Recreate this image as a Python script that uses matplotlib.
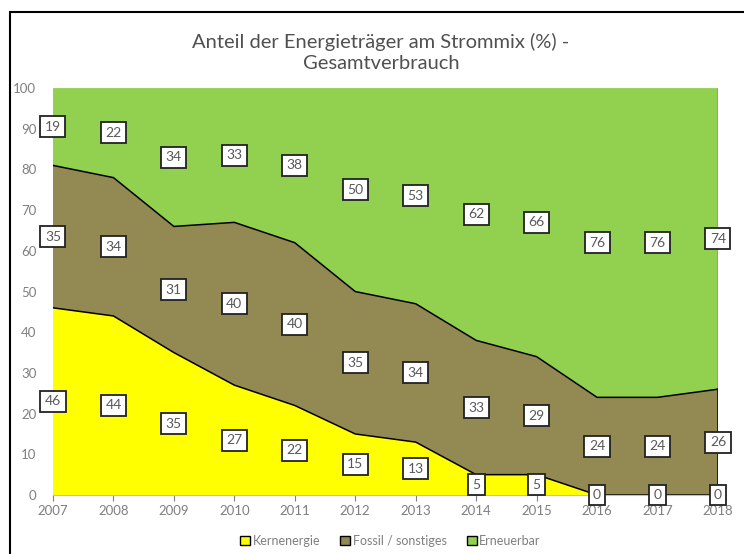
import numpy as np
from matplotlib import pyplot as plt
from matplotlib.patches import Rectangle

plt.rcParams["font.family"] = ["Lato", "DejaVu Sans"]

years = [2007, 2008, 2009, 2010, 2011, 2012, 2013, 2014, 2015, 2016, 2017, 2018]
kern = [46, 44, 35, 27, 22, 15, 13, 5, 5, 0, 0, 0]
fossil = [35, 34, 31, 40, 40, 35, 34, 33, 29, 24, 24, 26]
erneuerbar = [19, 22, 34, 33, 38, 50, 53, 62, 66, 76, 76, 74]
names = ["Kernenergie", "Fossil / sonstiges", "Erneuerbar"]
colors = ["#ffff00", "#938953", "#92d050"]

grey = "#7f7f7f"

fig = plt.figure(figsize=(7.44, 5.54), dpi=100)
ax = fig.add_axes([0.0712, 0.1065, 0.8938, 0.7345])

x = np.array(years)
k = np.array(kern)
f = np.array(fossil)
e = np.array(erneuerbar)
lvl1 = k
lvl2 = k + f
lvl3 = k + f + e

ax.fill_between(x, 0, lvl1, color=colors[0], edgecolor="none", label=names[0])
ax.fill_between(x, lvl1, lvl2, color=colors[1], edgecolor="none", label=names[1])
ax.fill_between(x, lvl2, lvl3, color=colors[2], edgecolor="none", label=names[2])
ax.plot(x, lvl1, color="black", lw=1.1)
ax.plot(x, lvl2, color="black", lw=1.1)
ax.plot([x[-1], x[-1]], [0, lvl2[-1]], color="black", lw=1.1)
ax.plot([x[-1], x[-1]], [lvl2[-1], 100], color="#3a3a3a", lw=1.0)

box = dict(boxstyle="square,pad=0.32", fc="white", ec="#222222", lw=1.3)
for i, yr in enumerate(years):
    ax.text(yr, k[i] / 2, str(kern[i]), ha="center", va="center",
            fontsize=10, color="#595959", bbox=box)
    ax.text(yr, k[i] + f[i] / 2, str(fossil[i]), ha="center", va="center",
            fontsize=10, color="#595959", bbox=box)
    ax.text(yr, lvl2[i] + e[i] / 2, str(erneuerbar[i]), ha="center", va="center",
            fontsize=10, color="#595959", bbox=box)

ax.set_xlim(2007, 2018)
ax.set_ylim(0, 100)
ax.set_xticks(years)
ax.set_yticks(range(0, 101, 10))
ax.tick_params(axis="x", colors=grey, labelsize=9.5, length=4, width=0.8)
ax.tick_params(axis="y", colors=grey, labelsize=9.5, length=0, pad=12)
for s in ["top", "right", "left"]:
    ax.spines[s].set_visible(False)
ax.spines["bottom"].set_color("#bfbfbf")

fig.text(0.512, 0.905, "Anteil der Energieträger am Strommix (%) -\nGesamtverbrauch",
         ha="center", va="center", fontsize=14.5, color="#505050", linespacing=1.25)

leg = fig.legend(loc="center", bbox_to_anchor=(0.525, 0.024), ncol=3, frameon=False,
                 fontsize=9, handlelength=0.8, handleheight=0.8, handletextpad=0.2,
                 columnspacing=1.6)
for h in leg.legend_handles:
    h.set_edgecolor("black")
    h.set_linewidth(1.0)
for t in leg.get_texts():
    t.set_color(grey)

fig.patches.append(Rectangle((10 / 744, -0.1), 1.0, 1 - 12 / 554 + 0.1,
                             transform=fig.transFigure, fill=False,
                             ec="black", lw=1.5))

fig.savefig("out.png", dpi=100)
